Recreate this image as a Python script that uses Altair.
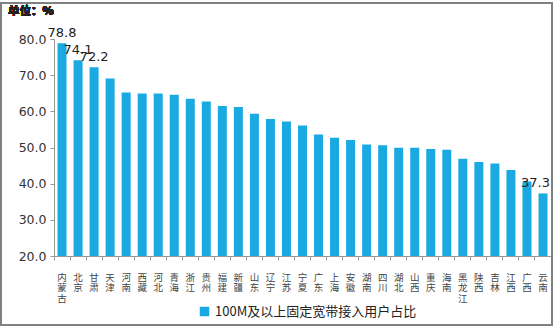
import altair as alt
import pandas as pd

provinces = ["内蒙古", "北京", "甘肃", "天津", "河南", "西藏", "河北", "青海", "浙江", "贵州",
             "福建", "新疆", "山东", "辽宁", "江苏", "宁夏", "广东", "上海", "安徽", "湖南",
             "四川", "湖北", "山西", "重庆", "海南", "黑龙江", "陕西", "吉林", "江西", "广西", "云南"]
values = [78.8, 74.1, 72.2, 69.1, 65.2, 64.9, 64.9, 64.6, 63.5, 62.7,
          61.5, 61.2, 59.3, 57.9, 57.2, 56.1, 53.6, 52.7, 52.1, 50.8,
          50.6, 49.9, 49.9, 49.6, 49.4, 46.9, 46.0, 45.6, 43.8, 40.6, 37.3]
labelled_center = ["内蒙古", "北京", "甘肃"]
labelled_right = ["云南"]
series_name = "100M及以上固定宽带接入用户占比"

df = pd.DataFrame({"province": provinces, "value": values})
df["series"] = series_name
df["label_c"] = [f"{v:.1f}" if p in labelled_center else "" for p, v in zip(provinces, values)]
df["label_r"] = [f"{v:.1f}" if p in labelled_right else "" for p, v in zip(provinces, values)]

BAR = "#1AA9E0"
x_enc = alt.X("province:N", sort=provinces, title=None,
              scale=alt.Scale(paddingInner=0, paddingOuter=0),
              axis=alt.Axis(labelAngle=0, labelExpr="split(datum.label, '')",
                            labelFont="Noto Sans CJK SC", labelFontSize=9.5,
                            labelLineHeight=10.5, labelColor="#444444", labelPadding=12,
                            bandPosition=0, tickSize=4, tickColor="#999999",
                            domainColor="#999999", labelBaseline="top",
                            labelOverlap=False))
y_enc = alt.Y("value:Q", title=None,
              scale=alt.Scale(domain=[20, 80], nice=False, zero=False),
              axis=alt.Axis(values=[20, 30, 40, 50, 60, 70, 80], format=".1f",
                            labelFont="DejaVu Sans", labelFontSize=12.5,
                            labelColor="#333333", tickSize=4, tickColor="#999999",
                            domainColor="#999999", grid=False, labelPadding=4,
                            labelOverlap=False))

base = alt.Chart(df).encode(x=x_enc, y=y_enc)

bars = base.mark_bar(size=9).encode(
    y2=alt.datum(20),
    color=alt.Color("series:N", scale=alt.Scale(range=[BAR]),
                    legend=alt.Legend(title=None, orient="none", legendX=144, legendY=266,
                                      symbolType="square", symbolSize=90, labelLimit=0,
                                      labelFont="Noto Sans CJK SC", labelFontSize=13,
                                      labelColor="#222222", symbolStrokeWidth=0))
)

labels_c = base.mark_text(baseline="bottom", dy=-3, fontSize=13,
                          font="DejaVu Sans", color="#222222").encode(text="label_c:N")
labels_r = base.mark_text(baseline="bottom", align="right", dx=7, dy=-3, fontSize=13,
                          font="DejaVu Sans", color="#222222").encode(text="label_r:N")

unit = alt.Chart(df).mark_text(align="left", baseline="middle", fontSize=11.5, fontWeight="bold",
                               font="Noto Sans CJK SC", color="#222222").encode(
    x=alt.value(-46), y=alt.value(-27), text=alt.value("单位：%"))

frame = alt.Chart(df).mark_rect(fill=None, stroke="#808080", strokeWidth=1.5).encode(
    x=alt.value(-53), x2=alt.value(498), y=alt.value(-36), y2=alt.value(286))

chart = alt.layer(frame, bars, labels_c, labels_r, unit).properties(
    width=497, height=217,
    autosize=alt.AutoSizeParams(type="none"),
    padding={"left": 54, "top": 39, "right": 5, "bottom": 76},
    background="white"
).configure_view(stroke=None)

chart.save("out.html", embed_options={"renderer": "svg", "actions": False})
